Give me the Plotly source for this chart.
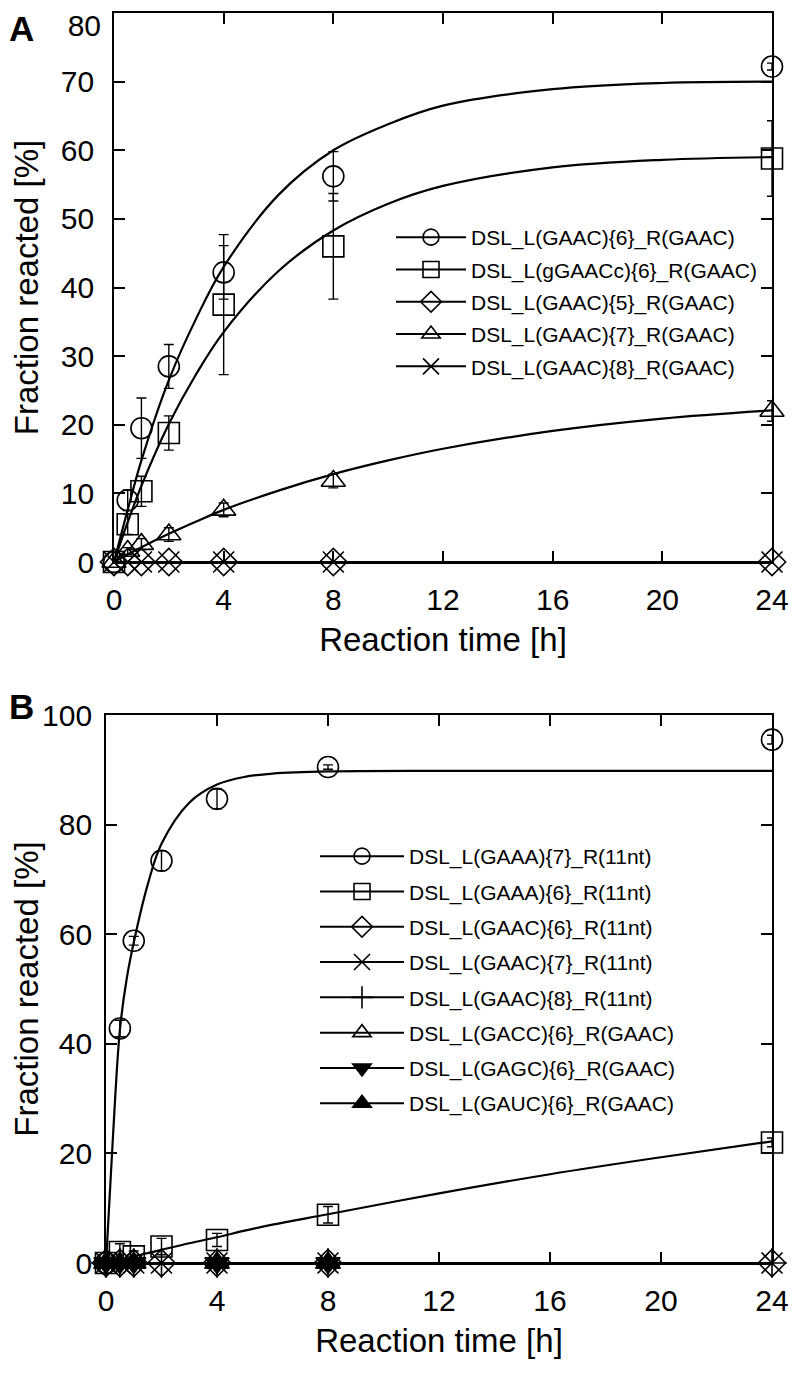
import plotly.graph_objects as go

# ---------------- Panel A data ----------------
tA = [0, 0.5, 1, 2, 4, 8, 24]
A_gaac6 = [0, 9.0, 19.5, 28.5, 42.2, 56.2, 72.2]
A_gaac6_err = [0, 1.5, 4.4, 3.2, 3.9, 3.6, 0.5]
A_ggaacc6 = [0, 5.5, 10.3, 18.8, 37.5, 46.0, 58.8]
A_ggaacc6_err = [0, 1.5, 2.2, 2.5, 10.2, 7.7, 5.5]
A_gaac5 = [0, 0, 0, 0, 0, 0, 0]
A_gaac7 = [0, 1.6, 2.6, 4.0, 7.6, 11.8, 22.0]
A_gaac7_err = [0, 0.5, 0.8, 1.0, 1.0, 1.0, 1.5]
A_gaac8 = [0, 0, 0, 0, 0, 0, 0]

# fitted curves
tA_fit = [0, 0.5, 1, 2, 3, 4, 6, 8, 10, 12, 16, 20, 24]
A_fit_gaac6 = [0, 7.6, 14.8, 26.5, 35.5, 43.0, 53.5, 60.0, 63.8, 66.5, 68.9, 69.8, 70.0]
A_fit_ggaacc6 = [0, 5.8, 11.1, 20.1, 27.4, 33.5, 42.4, 48.3, 52.2, 54.8, 57.5, 58.6, 59.0]
A_fit_gaac7 = [0, 1.1, 2.15, 4.1, 5.9, 7.6, 10.4, 12.8, 14.8, 16.5, 19.1, 20.9, 22.1]
A_fit_zero = [0] * 13

A_names = ["DSL_L(GAAC){6}_R(GAAC)", "DSL_L(gGAACc){6}_R(GAAC)", "DSL_L(GAAC){5}_R(GAAC)",
           "DSL_L(GAAC){7}_R(GAAC)", "DSL_L(GAAC){8}_R(GAAC)"]
A_yticks = [0, 10, 20, 30, 40, 50, 60, 70]
A_ytick_top = [80]

# ---------------- Panel B data ----------------
tB = [0, 0.5, 1, 2, 4, 8, 24]
tB_short = [0, 0.5, 1, 4, 8]
B_gaaa7 = [0, 42.8, 58.8, 73.4, 84.7, 90.5, 95.5]
B_gaaa7_err = [0, 1.5, 0.8, 1.8, 1.8, 0.4, 0.8]
B_gaaa6 = [0, 2.0, 1.2, 3.0, 4.2, 8.8, 22.0]
B_gaaa6_err = [0, 1.5, 1.0, 1.5, 1.2, 1.5, 0.8]
B_gaac6 = [0, 0, 0, 0, 0, 0, 0]
B_gaac7 = [0, 0, 0, 0, 0, 0, 0]
B_gaac8 = [0, 0, 0, 0, 0, 0, 0]
B_gacc6 = [0, 0, 0, 0, 0]
B_gagc6 = [0, 0, 0, 0, 0]
B_gauc6 = [0, 0, 0, 0, 0]

tB_fit = [0, 0.25, 0.5, 0.75, 1, 1.5, 2, 3, 4, 5, 6, 8, 12, 16, 20, 24]
B_fit_gaaa7 = [0, 23, 42.5, 52, 58.5, 69, 76.5, 84, 87.3, 88.7, 89.3, 89.7, 89.8, 89.8, 89.8, 89.8]
B_fit_gaaa6 = [0, 0.3, 0.6, 0.9, 1.2, 1.8, 2.4, 3.6, 4.7, 5.9, 7.0, 8.9, 12.7, 16.2, 19.3, 22.2]
B_fit_zero = [0] * 16

B_names = ["DSL_L(GAAA){7}_R(11nt)", "DSL_L(GAAA){6}_R(11nt)", "DSL_L(GAAC){6}_R(11nt)",
           "DSL_L(GAAC){7}_R(11nt)", "DSL_L(GAAC){8}_R(11nt)", "DSL_L(GACC){6}_R(GAAC)",
           "DSL_L(GAGC){6}_R(GAAC)", "DSL_L(GAUC){6}_R(GAAC)"]
x_ticks = [0, 4, 8, 12, 16, 20, 24]

# ---------------- styling ----------------
FONT = "Liberation Sans, Arial, sans-serif"
BLACK = "black"
MS = 21
LW = 1.6

fig = go.Figure()


def fit_line(x, y, xa, ya):
    fig.add_trace(go.Scatter(x=x, y=y, mode="lines", line=dict(color=BLACK, width=2.2, shape="spline"),
                             xaxis=xa, yaxis=ya, showlegend=False, hoverinfo="skip"))


def points(x, y, err, symbol, xa, ya):
    m = dict(symbol=symbol, size=MS, color=BLACK, line=dict(color=BLACK, width=LW))
    kw = {}
    if err is not None:
        kw["error_y"] = dict(type="data", array=err, visible=True, color=BLACK, thickness=1.4, width=5)
    fig.add_trace(go.Scatter(x=x, y=y, mode="markers", marker=m, xaxis=xa, yaxis=ya,
                             showlegend=False, cliponaxis=False, **kw))


def legend_entry(name, symbol, legend, xa="x", ya="y"):
    m = dict(symbol=symbol, size=MS, color=BLACK, line=dict(color=BLACK, width=LW))
    fig.add_trace(go.Scatter(x=[None], y=[None], mode="lines+markers", name=name, marker=m,
                             line=dict(color=BLACK, width=2), legend=legend, legendgroup=name,
                             xaxis=xa, yaxis=ya))


# Panel A
fit_line(tA_fit, A_fit_gaac6, "x", "y")
fit_line(tA_fit, A_fit_ggaacc6, "x", "y")
fit_line(tA_fit, A_fit_gaac7, "x", "y")
fit_line(tA_fit, A_fit_zero, "x", "y")
points(tA, A_gaac5, None, "diamond-open", "x", "y")
points(tA, A_gaac8, None, "x-thin-open", "x", "y")
points(tA, A_gaac7, A_gaac7_err, "triangle-up-open", "x", "y")
points(tA, A_ggaacc6, A_ggaacc6_err, "square-open", "x", "y")
points(tA, A_gaac6, A_gaac6_err, "circle-open", "x", "y")
# carrier for the overlay axis holding the top tick label
fig.add_trace(go.Scatter(x=[None], y=[None], xaxis="x", yaxis="y3", showlegend=False, hoverinfo="skip"))

symA = ["circle-open", "square-open", "diamond-open", "triangle-up-open", "x-thin-open"]
for n, s in zip(A_names, symA):
    legend_entry(n, s, "legend", xa="x", ya="y")

# Panel B
fit_line(tB_fit, B_fit_gaaa7, "x2", "y2")
fit_line(tB_fit, B_fit_gaaa6, "x2", "y2")
fit_line(tB_fit, B_fit_zero, "x2", "y2")
points(tB_short, B_gacc6, None, "triangle-up-open", "x2", "y2")
points(tB_short, B_gagc6, None, "triangle-down", "x2", "y2")
points(tB_short, B_gauc6, None, "triangle-up", "x2", "y2")
points(tB, B_gaac6, None, "diamond-open", "x2", "y2")
points(tB, B_gaac7, None, "x-thin-open", "x2", "y2")
points(tB, B_gaac8, None, "cross-thin-open", "x2", "y2")
points(tB, B_gaaa6, B_gaaa6_err, "square-open", "x2", "y2")
points(tB, B_gaaa7, B_gaaa7_err, "circle-open", "x2", "y2")

symB = ["circle-open", "square-open", "diamond-open", "x-thin-open", "cross-thin-open",
        "triangle-up-open", "triangle-down", "triangle-up"]
for n, s in zip(B_names, symB):
    legend_entry(n, s, "legend2", xa="x2", ya="y2")

W, H = 800, 1373
OFF = 8  # page body margin
tickfont = dict(family=FONT, size=30, color=BLACK)
axis_common = dict(showgrid=False, zeroline=False, showline=True, linecolor=BLACK, linewidth=1.8,
                   mirror="ticks", ticks="inside", ticklen=11, tickwidth=1.8, tickcolor=BLACK,
                   automargin=False, ticklabeloverflow="allow", tickfont=tickfont,
                   title_font=dict(family=FONT, size=33, color=BLACK))


def px_x(v):
    return (v - OFF) / W


def px_y(v):
    return 1 - (v - OFF) / H


fig.update_layout(
    width=W, height=H, margin=dict(l=0, r=0, t=0, b=0, autoexpand=False),
    paper_bgcolor="white", plot_bgcolor="white",
    font=dict(family=FONT, color=BLACK),
    xaxis=dict(domain=[px_x(114), px_x(772)], range=[0, 24], tickvals=x_ticks,
               anchor="y", title=dict(text="Reaction time [h]", standoff=13), ticklabelstandoff=10,
               **axis_common),
    yaxis=dict(domain=[px_y(562), px_y(13)], range=[0, 80],
               tickvals=A_yticks + A_ytick_top, ticktext=[str(v) for v in A_yticks] + [""],
               anchor="x", title=dict(text="Fraction reacted [%]", standoff=18), ticklabelstandoff=12,
               **axis_common),
    yaxis3=dict(overlaying="y", anchor="x", side="left", range=[0, 80], tickvals=A_ytick_top,
                ticks="", showline=False, showgrid=False, zeroline=False, automargin=False,
                ticklabeloverflow="allow", ticklabelshift=12, ticklabelstandoff=12, tickfont=tickfont),
    xaxis2=dict(domain=[px_x(106), px_x(772)], range=[0, 24], tickvals=x_ticks,
                anchor="y2", title=dict(text="Reaction time [h]", standoff=13), ticklabelstandoff=10,
                **axis_common),
    yaxis2=dict(domain=[px_y(1263), px_y(715)], range=[0, 100], tickvals=list(range(0, 101, 20)),
                anchor="x2", title=dict(text="Fraction reacted [%]", standoff=3), ticklabelstandoff=6,
                **axis_common),
    legend=dict(x=383 / W, y=1 - 209 / H, xanchor="left", yanchor="top", bgcolor="rgba(0,0,0,0)",
                font=dict(family=FONT, size=21, color=BLACK), itemwidth=70, tracegroupgap=2,
                itemsizing="trace"),
    legend2=dict(x=307 / W, y=1 - 828 / H, xanchor="left", yanchor="top", bgcolor="rgba(0,0,0,0)",
                 font=dict(family=FONT, size=21, color=BLACK), itemwidth=84, tracegroupgap=5,
                 itemsizing="trace"),
    annotations=[
        dict(text="<b>A</b>", x=0, y=1, xref="paper", yref="paper", xanchor="left",
             yanchor="top", showarrow=False, borderpad=0,
             font=dict(family=FONT, size=35, color=BLACK)),
        dict(text="<b>B</b>", x=0, y=1 - 678 / H, xref="paper", yref="paper", xanchor="left",
             yanchor="top", showarrow=False, borderpad=0,
             font=dict(family=FONT, size=35, color=BLACK)),
    ],
)

fig.write_html("out.html")
